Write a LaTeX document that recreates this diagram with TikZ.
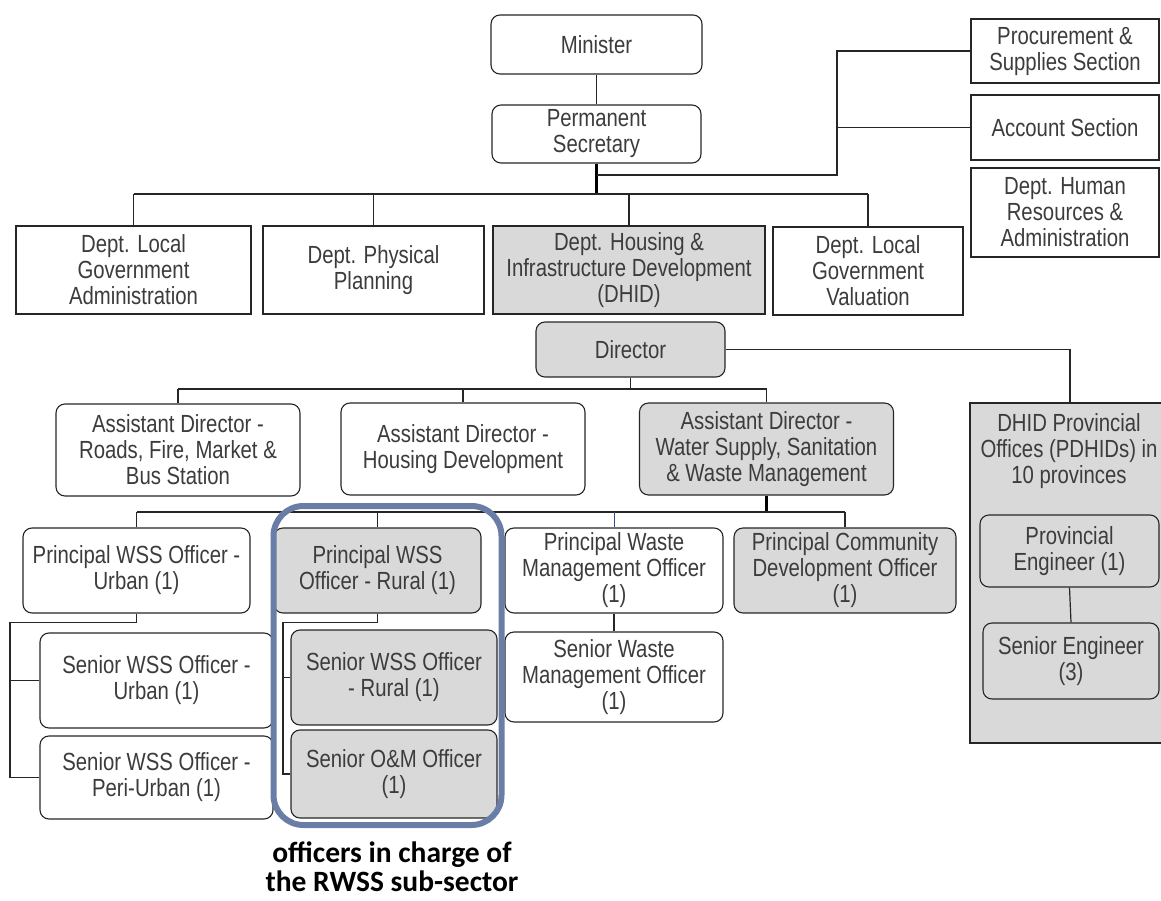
\documentclass[tikz,border=0pt]{standalone}
\usepackage{fontspec}
\newfontfamily\boxfont{Liberation Sans}[FakeStretch=0.82]
\newfontfamily\notefont{Carlito}
\definecolor{panel}{HTML}{D9D9D9}
\definecolor{ink}{HTML}{3C3C3C}
\definecolor{edge}{HTML}{262626}
\definecolor{ring}{HTML}{6A7DA6}
\definecolor{navyline}{HTML}{2F4F8F}
\begin{document}
\begin{tikzpicture}[x=1pt,y=-1pt,
  unit/.style={draw=edge, line width=1.1pt, fill=white, inner sep=0pt,
    align=center, text=ink, font=\boxfont\fontsize{24.8}{26}\selectfont},
  sqbox/.style={unit, rectangle},
  rbox/.style={unit, rounded corners=9pt},
  shaded/.style={fill=panel},
  link/.style={draw=edge, line width=1.2pt},
  trunk/.style={draw=black, line width=2.2pt},
  plain/.style={align=center, text=ink, inner sep=0pt,
    font=\boxfont\fontsize{24.8}{26}\selectfont}]
\useasboundingbox (0,0) rectangle (1161,901);
\clip (0,0) rectangle (1161,901);

% ministry level
\node[rbox, minimum width=211pt, minimum height=59pt] (min) at (596.5,44.5) {Minister};
\node[rbox, minimum width=209pt, minimum height=58pt] (ps) at (596.5,134) {Permanent\\Secretary};
\node[sqbox, minimum width=188pt, minimum height=64pt] (proc) at (1065,51) {Procurement \&\\Supplies Section};
\node[sqbox, minimum width=188pt, minimum height=65pt] (acct) at (1065,127.5) {Account Section};
\node[sqbox, minimum width=188pt, minimum height=89pt] (hr) at (1065,212.5) {Dept. Human\\Resources \&\\Administration};

% departments
\node[sqbox, minimum width=235pt, minimum height=88pt] (lga) at (133.5,270) {Dept. Local\\Government\\Administration};
\node[sqbox, minimum width=221pt, minimum height=88pt] (pp) at (373.5,270) {Dept. Physical\\Planning};
\node[sqbox, shaded, minimum width=272pt, minimum height=88pt] (dhid) at (629,270) {Dept. Housing \&\\Infrastructure Development\\(DHID)};
\node[sqbox, minimum width=190pt, minimum height=88pt] (val) at (868,271) {Dept. Local\\Government\\Valuation};

% DHID directorate
\node[rbox, shaded, minimum width=189pt, minimum height=55pt] (dir) at (630.5,349.5) {Director};
\node[rbox, minimum width=244pt, minimum height=92pt] (ad1) at (178,450) {Assistant Director -\\Roads, Fire, Market \&\\Bus Station};
\node[rbox, minimum width=244pt, minimum height=92pt] (ad2) at (463,449) {Assistant Director -\\Housing Development};
\node[rbox, shaded, minimum width=254pt, minimum height=92pt] (ad3) at (766.5,449) {Assistant Director -\\Water Supply, Sanitation\\\& Waste Management};

% provincial offices
\node[sqbox, shaded, minimum width=200pt, minimum height=340pt] (prov) at (1070,573) {};
\node[plain] (provtxt) at (1069,451) {DHID Provincial\\Offices (PDHIDs) in\\10 provinces};
\node[rbox, shaded, minimum width=179pt, minimum height=72pt] (pe) at (1069.5,551) {Provincial\\Engineer (1)};
\node[rbox, shaded, minimum width=176pt, minimum height=76pt] (se) at (1071,661) {Senior Engineer\\(3)};

% principal officers
\node[rbox, minimum width=227pt, minimum height=85pt] (pu) at (136.5,570.5) {Principal WSS Officer -\\Urban (1)};
\node[rbox, shaded, minimum width=207pt, minimum height=85pt] (pr) at (377.5,570.5) {Principal WSS\\Officer - Rural (1)};
\node[rbox, minimum width=218pt, minimum height=85pt] (pw) at (614,570.5) {Principal Waste\\Management Officer\\(1)};
\node[rbox, shaded, minimum width=222pt, minimum height=85pt] (pc) at (845,570.5) {Principal Community\\Development Officer\\(1)};

% senior officers
\node[rbox, minimum width=233pt, minimum height=95pt] (su) at (156.5,680.5) {Senior WSS Officer -\\Urban (1)};
\node[rbox, minimum width=233pt, minimum height=83pt] (spu) at (156.5,777.5) {Senior WSS Officer -\\Peri-Urban (1)};
\node[rbox, shaded, minimum width=206pt, minimum height=95pt] (sr) at (394,677.5) {Senior WSS Officer\\- Rural (1)};
\node[rbox, shaded, minimum width=206pt, minimum height=88pt] (som) at (394,774) {Senior O\&M Officer\\(1)};
\node[rbox, minimum width=218pt, minimum height=90pt] (sw) at (614,677) {Senior Waste\\Management Officer\\(1)};

% connectors: ministry
\coordinate (deptbar) at (0,194);
\coordinate (secbar) at (837,175);
\draw[link] (min.south) -- (ps.north);
\draw[trunk] (ps.south) -- (ps.south |- deptbar);
\draw[link] (ps.south |- secbar) -- (secbar) -- (secbar |- proc.west) -- (proc.west);
\draw[link] (secbar |- acct.west) -- (acct.west);
\draw[link] (lga.north |- deptbar) -- (val.north |- deptbar);
\foreach \d in {lga,pp,dhid,val} \draw[link] (\d.north |- deptbar) -- (\d.north);

% connectors: directorate
\coordinate (adbar) at (0,389);
\draw[link] (dir.south) -- (dir.south |- adbar);
\draw[link] (ad1.north |- adbar) -- (ad3.north |- adbar);
\foreach \a in {ad1,ad2,ad3} \draw[link] (\a.north |- adbar) -- (\a.north);
\draw[link] (dir.east) -| (prov.north);
\draw[link] (pe.south) -- (se.north);

% connectors: principal officers
\coordinate (pbar) at (0,512);
\draw[trunk] (ad3.south) -- (ad3.south |- pbar);
\draw[link] (pu.north |- pbar) -- (pc.north |- pbar);
\foreach \p in {pu,pr,pc} \draw[link] (\p.north |- pbar) -- (\p.north);
\draw[link, draw=navyline, line width=0.9pt] (pw.north |- pbar) -- (pw.north);

% connectors: senior officers
\coordinate (urail) at (10,622.5);
\coordinate (rrail) at (283,622.5);
\draw[link] (pu.south) |- (urail) |- (spu.west);
\draw[link] (urail |- su.west) -- (su.west);
\draw[link] (pr.south) |- (rrail) |- (som.west);
\draw[link] (rrail |- sr.west) -- (sr.west);
\draw[link] (pw.south) -- (sw.north);

% rural water supply group
\draw[ring, line width=6pt, rounded corners=30pt] (273.5,506) rectangle (501.5,825);
\node[align=center, inner sep=0pt, text=black,
  font=\notefont\bfseries\fontsize{29.5}{29}\selectfont] (note) at (392,867)
  {officers in charge of\\the RWSS sub-sector};
\end{tikzpicture}
\end{document}
